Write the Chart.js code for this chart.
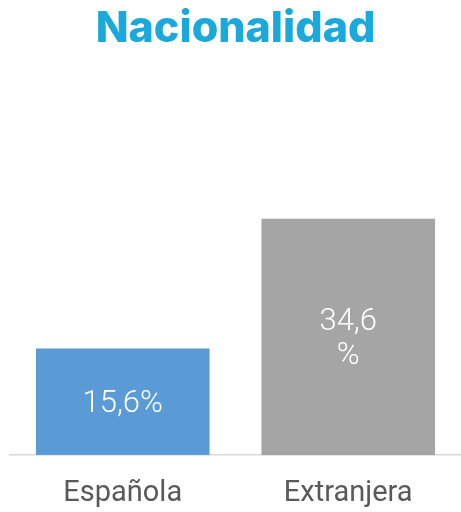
<!DOCTYPE html>
<html><head><meta charset="utf-8">
<script src="https://cdn.jsdelivr.net/npm/chart.js@4/dist/chart.umd.min.js"></script>
<style>html,body{margin:0;padding:0;background:#fff}#w{width:461px;height:512px}</style>
</head><body><div id="w"><canvas id="c"></canvas></div>
<script>
const titleText = "Nacionalidad";
const categories = ["Española", "Extranjera"];
const values = [15.6, 34.6];
const valueLabels = [["15,6%"], ["34,6", "%"]];
const barColors = ["#5B9BD5", "#A5A5A5"];

const labelPlugin = {
  id: 'inLabels',
  afterDatasetsDraw(chart) {
    const ctx = chart.ctx;
    const meta = chart.getDatasetMeta(0);
    ctx.save();
    ctx.fillStyle = '#ffffff';
    ctx.font = '300 31px Roboto';
    ctx.textAlign = 'center';
    ctx.textBaseline = 'middle';
    meta.data.forEach((bar, i) => {
      const lines = valueLabels[i];
      const lh = 34;
      const cy = (bar.y + bar.base) / 2 + 2;
      const start = cy - (lines.length - 1) * lh / 2;
      lines.forEach((t, k) => ctx.fillText(t, bar.x, start + k * lh));
    });
    ctx.restore();
  }
};

new Chart(document.getElementById('c'), {
  type: 'bar',
  data: { labels: categories, datasets: [{ data: values, backgroundColor: barColors, categoryPercentage: 1, barPercentage: 0.77 }] },
  options: {
    responsive: true, maintainAspectRatio: false, animation: false,
    layout: { padding: { left: 10, right: 0, top: 0, bottom: -20 } },
    plugins: {
      legend: { display: false }, tooltip: { enabled: false },
      title: { display: true, text: titleText, color: '#1AA9DA', font: { family: 'Inter', size: 43, weight: '800', lineHeight: 1.2 }, padding: { top: 3, bottom: 59 } }
    },
    scales: {
      x: { grid: { display: false, drawTicks: false }, border: { display: true, color: '#D9D9D9', width: 1.5 },
           ticks: { color: '#595959', font: { family: 'Roboto', size: 29 }, padding: 21 } },
      y: { display: false, min: 0, max: 50 }
    }
  },
  plugins: [labelPlugin]
});
</script></body></html>
